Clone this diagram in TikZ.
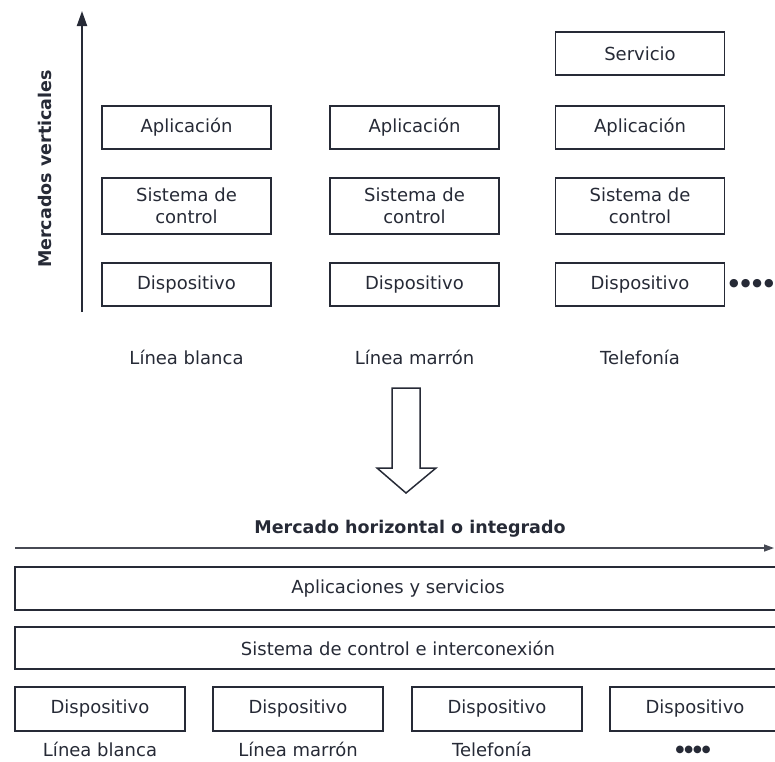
\documentclass[tikz,border=0pt]{standalone}
\usepackage{fontspec}
\setmainfont{DejaVu Sans}
\usetikzlibrary{arrows.meta}
\definecolor{ink}{RGB}{38,42,54}
\begin{document}
\begin{tikzpicture}[x=1pt,y=-1pt,
  every node/.style={text=ink, font=\fontsize{18}{21.5}\selectfont},
  box/.style={draw=ink, line width=1.8pt, minimum width=169pt, minimum height=43pt, inner sep=0pt, align=center},
  tallbox/.style={box, minimum height=56pt},
  widebox/.style={box, minimum width=766pt},
  lowbox/.style={box, minimum width=170pt, minimum height=44pt},
  ttl/.style={font=\fontsize{17.5}{21}\selectfont\bfseries},
  dotsbig/.style={font=\fontsize{11}{13}\selectfont, inner sep=0pt},
  dotssmall/.style={font=\fontsize{10}{12}\selectfont, inner sep=0pt},
  vaxis/.style={draw=ink, line width=2pt, -{Triangle[length=15pt,width=10pt]}},
  haxis/.style={draw=ink!85, line width=1.4pt, -{Triangle[length=10pt,width=7pt]}},
  bigarrow/.style={draw=ink, line width=1.5pt, line join=miter},
]
\useasboundingbox (0,0) rectangle (775,761);

% vertical axis
\coordinate (vbot) at (82,312);
\coordinate (vtop) at (82,11);
\draw[vaxis] (vbot) -- (vtop);
\node[ttl, rotate=90] (vlab) at (45,169) {Mercados verticales};

% column 1
\node[box] (a1) at (186.5,127.5) {Aplicación};
\node[tallbox] (s1) at (186.5,206) {Sistema de\\control};
\node[box] (d1) at (186.5,284.5) {Dispositivo};
% column 2
\node[box] (a2) at (414.5,127.5) {Aplicación};
\node[tallbox] (s2) at (414.5,206) {Sistema de\\control};
\node[box] (d2) at (414.5,284.5) {Dispositivo};
% column 3
\node[box] (v3) at (640,53.5) {Servicio};
\node[box] (a3) at (640,127.5) {Aplicación};
\node[tallbox] (s3) at (640,206) {Sistema de\\control};
\node[box] (d3) at (640,284.5) {Dispositivo};
\node[dotsbig, anchor=west] (dt) at (729,284) {●\kern2pt●\kern2pt●\kern2pt●};

% column labels
\node (l1) at (186.5,357) {Línea blanca};
\node (l2) at (414.5,357) {Línea marrón};
\node (l3) at (640,357) {Telefonía};

% big down arrow
\draw[bigarrow] (392,388) -- (420,388) -- (420,468) -- (436,468) -- (406,493) -- (377,468) -- (392,468) -- cycle;

% horizontal market
\node[ttl] (htitle) at (410,529) {Mercado horizontal o integrado};
\coordinate (hl) at (15,548);
\coordinate (hr) at (774,548);
\draw[haxis] (hl) -- (hr);

\node[widebox] (apps) at (398,588.5) {Aplicaciones y servicios};
\node[widebox, minimum height=42pt] (sys) at (398,648) {Sistema de control e interconexión};

\node[lowbox] (b1) at (100,709) {Dispositivo};
\node[lowbox] (b2) at (298,709) {Dispositivo};
\node[lowbox] (b3) at (497,709) {Dispositivo};
\node[lowbox] (b4) at (695,709) {Dispositivo};

\node[inner sep=1pt] (m1) at (100,749) {Línea blanca};
\node[inner sep=1pt] (m2) at (298,749) {Línea marrón};
\node[inner sep=1pt] (m3) at (492,749) {Telefonía};
\node[dotssmall] (m4) at (693,750) {●●●●};
\end{tikzpicture}
\end{document}
